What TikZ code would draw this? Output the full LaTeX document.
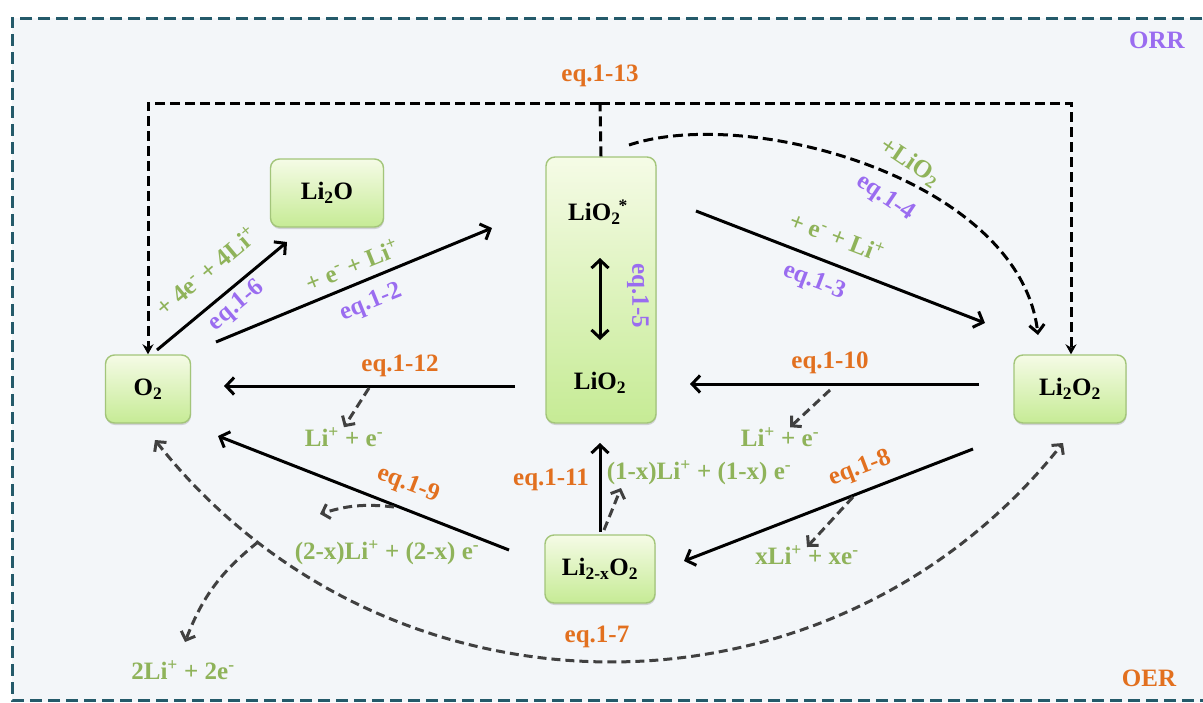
\documentclass[tikz,border=0pt]{standalone}
\usepackage{fontspec}
\setmainfont{Liberation Serif}
\usetikzlibrary{arrows.meta,shadows,calc}
\definecolor{bgc}{HTML}{F3F6F9}
\definecolor{framec}{HTML}{245A6A}
\definecolor{orng}{HTML}{E2701F}
\definecolor{purp}{HTML}{9A6CF0}
\definecolor{grn}{HTML}{8FB35A}
\definecolor{boxtop}{HTML}{F5FBE6}
\definecolor{boxbot}{HTML}{C6EB95}
\definecolor{boxedge}{HTML}{A3C57A}
\definecolor{dgray}{HTML}{404040}
\newcommand\fsz{\fontsize{25}{29}\selectfont}
\begin{document}
\begin{tikzpicture}[x=1pt,y=-1pt,
  box/.style={draw=boxedge, line width=1.4pt, rounded corners=9pt, top color=boxtop, bottom color=boxbot,
    drop shadow={shadow xshift=0.5pt, shadow yshift=-2pt, opacity=0.3}, inner sep=0pt, font=\fsz\bfseries},
  lab/.style={font=\fsz\bfseries, inner sep=0pt},
  eqo/.style={lab, text=orng},
  eqp/.style={lab, text=purp},
  spc/.style={lab, text=grn},
  arr/.style={line width=3pt, -{Straight Barb[length=8pt,width=17pt]}},
  bdash/.style={line width=3pt, dash pattern=on 10pt off 5pt},
  gdash/.style={draw=dgray, line width=3pt, dash pattern=on 9pt off 5pt, -{Straight Barb[length=7pt,width=15pt]}}
]
\useasboundingbox (0,0) rectangle (1203,702);
\clip (0,0) rectangle (1203,702);
% background and frame
\fill[white] (0,0) rectangle (1203,702);
\fill[bgc] (12,18) rectangle (1220,702);
\draw[framec, line width=3pt, dash pattern=on 12pt off 6pt] (1220,18) -- (12,18) -- (12,700) -- (1220,700);
\node[lab, text=purp] (orr) at (1157,40) {ORR};
\node[lab, text=orng] (oer) at (1149,678) {OER};

% species boxes
\node[box, minimum width=113pt, minimum height=68pt] (li2o) at (327,193) {Li\textsubscript{2}O};
\node[box, minimum width=110pt, minimum height=266pt] (lio2box) at (601,290) {};
\node[lab] (lio2s) at (598,212) {LiO\textsubscript{2}\kern-2pt\textsuperscript{*}};
\node[lab] (lio2) at (600,383) {LiO\textsubscript{2}};
\node[box, minimum width=85pt, minimum height=68pt] (o2) at (148,389) {O\textsubscript{2}};
\node[box, minimum width=112pt, minimum height=68pt] (li2o2) at (1070,389) {Li\textsubscript{2}O\textsubscript{2}};
\node[box, minimum width=110pt, minimum height=68pt] (li2xo2) at (600,569) {Li\textsubscript{2-x}O\textsubscript{2}};

% connector end points
\coordinate (t13) at (600,103);
\coordinate (s6) at (157,350);   \coordinate (e6) at (287,242);
\coordinate (s2) at (216,342);   \coordinate (e2) at (492,228);
\coordinate (s3) at (696,211);   \coordinate (e3) at (985,323);
\coordinate (s4) at (629,145);   \coordinate (e4) at (1038,335);
\coordinate (s5) at (600,258);   \coordinate (e5) at (600,340);
\coordinate (s12) at (515,386);  \coordinate (e12) at (224,386);
\coordinate (s10) at (979,384);  \coordinate (e10) at (690,384);
\coordinate (s9) at (509,550);   \coordinate (e9) at (218,436);
\coordinate (s11) at (600,532);  \coordinate (e11) at (600,443);
\coordinate (s8) at (973,449);   \coordinate (e8) at (684,561);
\coordinate (s7) at (155,440);   \coordinate (e7) at (1063,443);
\coordinate (b7) at (258,542);

% eq.1-13
\draw[bdash] (lio2box.north) -- (t13);
\draw[bdash, -{Stealth[length=10pt,width=11pt]}] (t13) -| (o2.north);
\draw[bdash, -{Stealth[length=10pt,width=11pt]}] (t13) -| ([xshift=1pt]li2o2.north);
\node[eqo] (l13) at (600,76) {eq.1-13};

% eq.1-4
\draw[bdash, -{Straight Barb[length=8pt,width=15pt]}] (s4) .. controls (750,105) and (1020,180) .. (e4);
\node[spc, rotate=-34] (t4) at (910,162) {+LiO\textsubscript{2}};
\node[eqp, rotate=-34] (l4) at (885,198) {eq.1-4};

% solid arrows
\draw[arr] (s6) -- (e6);
\node[spc, rotate=40] (t6) at (206,271) {+ 4e\textsuperscript{-} + 4Li\textsuperscript{+}};
\node[eqp, rotate=40] (l6) at (237,306) {eq.1-6};

\draw[arr] (s2) -- (e2);
\node[spc, rotate=22] (t2) at (352,265) {+ e\textsuperscript{-} + Li\textsuperscript{+}};
\node[eqp, rotate=22] (l2) at (371,303) {eq.1-2};

\draw[arr] (s3) -- (e3);
\node[spc, rotate=-21] (t3) at (837,236) {+ e\textsuperscript{-} + Li\textsuperscript{+}};
\node[eqp, rotate=-21] (l3) at (814,282) {eq.1-3};

\draw[line width=3pt, {Straight Barb[length=8pt,width=17pt]}-{Straight Barb[length=8pt,width=17pt]}] (s5) -- (e5);
\node[eqp, rotate=-90] (l5) at (638,296) {eq.1-5};

\draw[arr] (s12) -- (e12);
\node[eqo] (l12) at (400,366) {eq.1-12};
\node[spc] (p12) at (344,437) {Li\textsuperscript{+} + e\textsuperscript{-}};
\draw[gdash] (369,388) -- (p12.north);

\draw[arr] (s10) -- (e10);
\node[eqo] (l10) at (830,363) {eq.1-10};
\node[spc] (p10) at (780,437) {Li\textsuperscript{+} + e\textsuperscript{-}};
\draw[gdash] (830,390) -- ([xshift=10pt]p10.north);

\draw[arr] (s9) -- (e9);
\node[eqo, rotate=-21] (l9) at (408,485) {eq.1-9};
\node[spc] (p9) at (387,553) {(2-x)Li\textsuperscript{+} + (2-x) e\textsuperscript{-}};
\draw[gdash] (394,507) to[bend right=12] (320,514);

\draw[arr] (s11) -- (e11);
\node[eqo] (l11) at (551,480) {eq.1-11};
\node[spc] (p11) at (699,473) {(1-x)Li\textsuperscript{+} + (1-x) e\textsuperscript{-}};
\draw[gdash] (604,530) -- (621,488);

\draw[arr] (s8) -- (e8);
\node[eqo, rotate=21] (l8) at (860,469) {eq.1-8};
\node[spc] (p8) at (807,555) {xLi\textsuperscript{+} + xe\textsuperscript{-}};
\draw[gdash] (853,497) -- (807,547);

% eq.1-7
\draw[draw=dgray, line width=3pt, dash pattern=on 9pt off 5pt, {Straight Barb[length=7pt,width=15pt]}-{Straight Barb[length=7pt,width=15pt]}]
  (s7) .. controls (386,733) and (830,736) .. (e7);
\node[eqo] (l7) at (597,637) {eq.1-7};
\node[spc] (p7) at (183,670) {2Li\textsuperscript{+} + 2e\textsuperscript{-}};
\draw[gdash] (b7) to[bend right=15] (185,642);
\end{tikzpicture}
\end{document}
